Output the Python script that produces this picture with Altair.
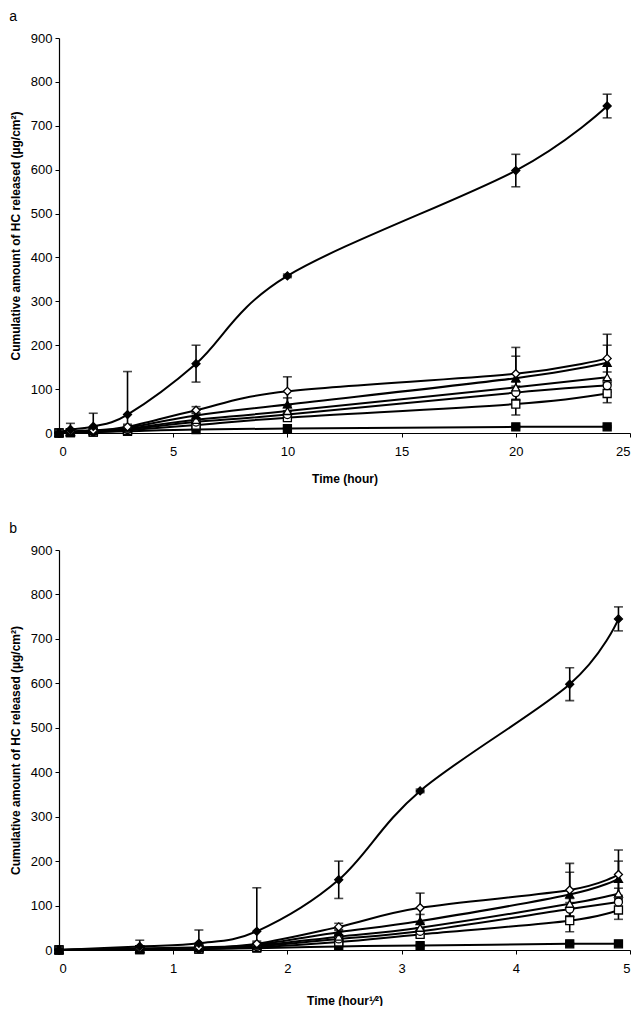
import altair as alt
import pandas as pd
import numpy as np

# ---- data ----
times = [0, 0.5, 1.5, 3, 6, 10, 20, 24]
series_names = ["filled_diamond", "open_diamond", "filled_triangle", "open_triangle",
                "open_circle", "open_square", "filled_square"]

filled_diamond = [0, 8, 15, 42, 158, 358, 598, 745]
filled_diamond_err = [0, 14, 30, 98, 42, 4, 37, 27]
open_diamond = [0, 4, 6, 14, 52, 95, 135, 170]
open_diamond_err = [0, 3, 5, 6, 8, 33, 60, 55]
filled_triangle = [0, 3, 5, 12, 40, 65, 125, 160]
filled_triangle_err = [0, 2, 3, 5, 6, 15, 50, 40]
open_triangle = [0, 2, 4, 10, 30, 50, 104, 127]
open_triangle_err = [0, 1, 2, 3, 4, 8, 12, 12]
open_circle = [0, 2, 3, 8, 25, 42, 92, 108]
open_circle_err = [0, 1, 2, 3, 4, 8, 15, 15]
open_square = [0, 1, 2, 6, 18, 35, 66, 90]
open_square_err = [0, 1, 1, 2, 4, 6, 25, 21]
filled_square = [0, 1, 2, 4, 8, 10, 14, 14]
filled_square_err = [0, 0, 0, 1, 1, 2, 2, 2]

values = [filled_diamond, open_diamond, filled_triangle, open_triangle,
          open_circle, open_square, filled_square]
errors = [filled_diamond_err, open_diamond_err, filled_triangle_err, open_triangle_err,
          open_circle_err, open_square_err, filled_square_err]
shapes = ["diamond", "diamond", "triangle-up", "triangle-up", "circle", "square", "square"]
fills = ["black", "white", "black", "white", "white", "white", "black"]

rows = []
for name, vals, errs in zip(series_names, values, errors):
    for t, v, e in zip(times, vals, errs):
        rows.append({"series": name, "t": t, "rt": float(np.sqrt(t)), "v": v,
                     "lo": max(0, v - e), "hi": v + e, "e": e})
df = pd.DataFrame(rows)
err_df = df[df["e"] > 0]
caps_hi = err_df.assign(cap=err_df["hi"])
caps_lo = err_df[err_df["v"] - err_df["e"] > 0].assign(cap=lambda d: d["lo"])
caps = pd.concat([caps_hi, caps_lo])

# draw order: filled diamond last (on top)
order = list(reversed(series_names))

FONT = "Liberation Sans"


def panel(xfield, xdomain, xticks, xtitle, ytitle, label, h, xtitlepad):
    x = alt.X(f"{xfield}:Q", scale=alt.Scale(domain=xdomain, nice=False),
              axis=alt.Axis(values=xticks, title=xtitle, titlePadding=xtitlepad,
                            format="d", grid=False, labelPadding=8))
    y = alt.Y("v:Q", scale=alt.Scale(domain=[0, 900], nice=False),
              axis=alt.Axis(values=list(range(0, 901, 100)), title=ytitle,
                            grid=False, titlePadding=8, labelPadding=3))
    shape = alt.Shape("series:N", scale=alt.Scale(domain=series_names, range=shapes), legend=None)
    fill = alt.Fill("series:N", scale=alt.Scale(domain=series_names, range=fills), legend=None)

    lines = alt.Chart(df).mark_line(interpolate="cardinal", color="black",
                                    strokeWidth=2, clip=False).encode(
        x=x, y=y, detail="series:N")
    rules = alt.Chart(err_df).mark_rule(color="black", strokeWidth=1.6).encode(
        x=alt.X(f"{xfield}:Q"), y=alt.Y("lo:Q"), y2="hi:Q")
    capm = alt.Chart(caps).mark_tick(color="black", orient="horizontal", size=9,
                                     thickness=1.6).encode(
        x=alt.X(f"{xfield}:Q"), y=alt.Y("cap:Q"))
    pts = alt.Chart(df).mark_point(filled=True, stroke="black", strokeWidth=1.3,
                                   size=64, opacity=1, clip=False).encode(
        x=alt.X(f"{xfield}:Q"), y=alt.Y("v:Q"), shape=shape, fill=fill,
        order=alt.Order("ord:Q"))
    pts = pts.transform_calculate(
        ord="indexof(" + str(order) + ", datum.series)")
    return alt.layer(lines, rules, capm, pts).properties(
        width=571, height=h,
        title=alt.TitleParams(label, anchor="start", frame="bounds", fontSize=14,
                              fontWeight="normal", font=FONT, offset=8, color="black"))


a = panel("t", [0, 25], [0, 5, 10, 15, 20, 25], "Time (hour)",
          "Cumulative amount of HC released  (\u00b5g/cm\u00b2)", "a", 395, 15)
b = panel("rt", [0, 5], [0, 1, 2, 3, 4, 5], "Time (hour\u00b9\u2044\u00b2)",
          "Cumulative amount of HC released (\u00b5g/cm\u00b2)", "b", 400, 20)

chart = alt.vconcat(a, b, spacing=38,
                    padding={"left": 1, "top": 2, "right": 0, "bottom": 0}
                    ).configure_view(stroke=None).configure_axis(
    grid=False, domainColor="black", tickColor="black", labelColor="black",
    titleColor="black", labelFont=FONT, titleFont=FONT, labelFontSize=13,
    titleFontSize=12, titleFontWeight="bold", tickSize=4,
    domainWidth=1.2
)

chart.save("out.html", embed_options={"renderer": "svg", "actions": False})
